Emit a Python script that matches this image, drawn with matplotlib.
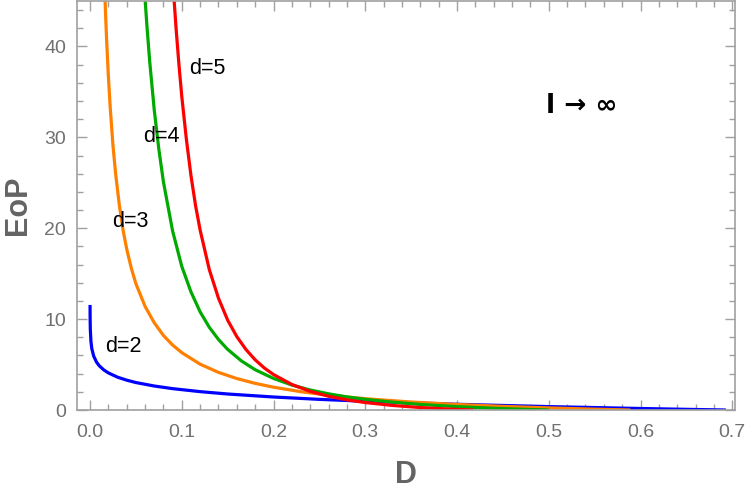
import matplotlib
matplotlib.use("Agg")
import matplotlib.pyplot as plt
from matplotlib.ticker import MultipleLocator

plt.rcParams['font.family'] = ['Liberation Sans', 'DejaVu Sans']

# d = 2 (blue)
d2_x = [0.00003, 0.0001, 0.0003, 0.001, 0.002, 0.004, 0.007, 0.01, 0.015, 0.02, 0.03, 0.04,
        0.05, 0.07, 0.09, 0.12, 0.15, 0.2, 0.25, 0.3, 0.35, 0.4, 0.45, 0.5, 0.55, 0.6,
        0.65, 0.693]
d2_y = [11.56, 10.17, 8.91, 7.52, 6.72, 5.93, 5.28, 4.87, 4.41, 4.08, 3.61, 3.28,
        3.02, 2.64, 2.35, 2.02, 1.76, 1.43, 1.17, 0.96, 0.79, 0.63, 0.50, 0.375, 0.27, 0.166,
        0.074, 0.0]

# d = 3 (orange)
d3_x = [0.016, 0.017, 0.018, 0.02, 0.022, 0.025, 0.028, 0.032, 0.036, 0.04, 0.045, 0.05,
        0.06, 0.07, 0.08, 0.09, 0.1, 0.12, 0.14, 0.16, 0.18, 0.2, 0.23, 0.26, 0.3, 0.35,
        0.4, 0.45, 0.5, 0.55, 0.589]
d3_y = [46.2, 43.4, 40.9, 36.7, 33.3, 29.1, 25.9, 22.5, 19.8, 17.7, 15.6, 13.9,
        11.4, 9.6, 8.2, 7.15, 6.31, 5.04, 4.14, 3.46, 2.93, 2.51, 2.01, 1.63, 1.24, 0.88,
        0.61, 0.40, 0.23, 0.09, 0.0]

# d = 4 (green)
d4_x = [0.06, 0.062, 0.065, 0.07, 0.075, 0.08, 0.09, 0.1, 0.11, 0.12, 0.13, 0.14,
        0.15, 0.165, 0.18, 0.2, 0.22, 0.24, 0.26, 0.28, 0.3, 0.33, 0.36, 0.4, 0.44, 0.47, 0.5]
d4_y = [45.2, 42.3, 38.4, 33.0, 28.7, 25.1, 19.7, 15.8, 13.0, 10.8, 9.1, 7.76,
        6.67, 5.4, 4.43, 3.47, 2.75, 2.2, 1.78, 1.44, 1.17, 0.86, 0.61, 0.37, 0.19, 0.09, 0.0]

# d = 5 (red)
d5_x = [0.091, 0.094, 0.097, 0.1, 0.105, 0.11, 0.115, 0.12, 0.13, 0.14, 0.15, 0.16,
        0.17, 0.18, 0.19, 0.2, 0.22, 0.24, 0.26, 0.28, 0.3, 0.33, 0.36, 0.39, 0.418]
d5_y = [46.0, 41.7, 37.9, 34.5, 29.8, 25.8, 22.5, 19.8, 15.45, 12.3, 9.89, 8.07,
        6.65, 5.52, 4.62, 3.90, 2.81, 2.05, 1.51, 1.12, 0.82, 0.50, 0.27, 0.11, 0.0]

labels = ["d=2", "d=3", "d=4", "d=5"]
label_x = [0.036, 0.044, 0.078, 0.128]
label_y = [7.0, 20.7, 30.1, 37.6]

x_ticks = [0.0, 0.1, 0.2, 0.3, 0.4, 0.5, 0.6, 0.7]
y_ticks = [0, 10, 20, 30, 40]

fig = plt.figure(figsize=(7.5, 4.94), dpi=100)
ax = fig.add_axes([77/750, (494-410)/494, (735-77)/750, 410/494 - 0.002])

series = [(d2_x, d2_y, '#0000ff'), (d3_x, d3_y, '#ff8000'),
          (d4_x, d4_y, '#00aa00'), (d5_x, d5_y, '#ff0000')]
for xs, ys, c in series:
    ax.plot(xs, ys, color=c, lw=2.3, solid_joinstyle='round', solid_capstyle='butt')

for t, x, y in zip(labels, label_x, label_y):
    ax.text(x, y, t, fontsize=15.5, ha='center', va='center', color='black')

ax.text(0.536, 33.5, "l → ∞", fontsize=19, fontweight='bold', ha='center', va='center',
        family=['DejaVu Sans'])

ax.set_xlim(-0.0142, 0.703)
ax.set_ylim(0, 45)
ax.set_xticks(x_ticks)
ax.set_xticklabels([f"{v:.1f}" for v in x_ticks])
ax.set_yticks(y_ticks)
ax.set_yticklabels([str(v) for v in y_ticks])
ax.xaxis.set_minor_locator(MultipleLocator(0.02))
ax.yaxis.set_minor_locator(MultipleLocator(2))

gray = '#a0a0a0'
for s in ax.spines.values():
    s.set_color(gray)
    s.set_linewidth(1.2)
ax.tick_params(which='both', direction='in', top=True, right=True, color=gray, width=1.0,
               labelcolor='#707070', labelsize=14)
ax.tick_params(which='major', length=7)
ax.tick_params(which='minor', length=4)
ax.tick_params(axis='x', pad=10)
ax.tick_params(axis='y', pad=8)

ax.set_xlabel("D", fontsize=22, fontweight='bold', color='#646464', labelpad=14)
ax.set_ylabel("EoP", fontsize=22, fontweight='bold', color='#646464', labelpad=8)

fig.savefig("out.png", dpi=100)
